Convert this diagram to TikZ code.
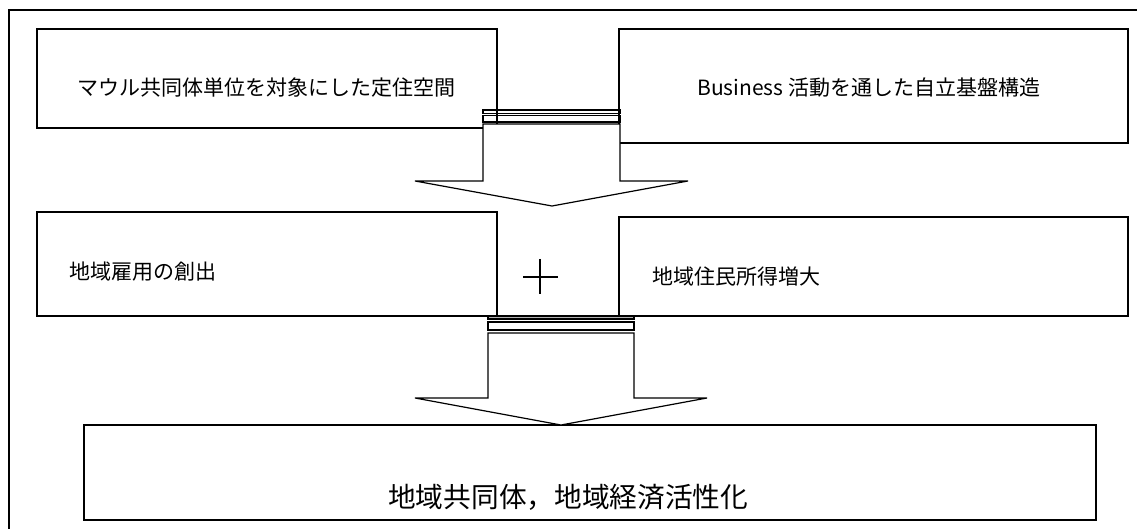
\documentclass[tikz,border=0pt]{standalone}
\usepackage{fontspec}
\setmainfont{Noto Sans CJK JP}
\begin{document}
\begin{tikzpicture}[x=1pt,y=-1pt,
  boxstyle/.style={draw=black,line width=1.5pt},
  arrowstyle/.style={draw=black,fill=white,line width=1.2pt,line join=miter},
  barstyle/.style={draw=black,line width=1.1pt},
  lbl/.style={inner sep=0pt,anchor=west,font=\fontsize{21}{21}\selectfont},
  biglbl/.style={inner sep=0pt,anchor=west,font=\fontsize{27.7}{27.7}\selectfont}]
\clip (0,0) rectangle (1137,529);
\fill[white] (0,0) rectangle (1137,529);
% outer frame
\draw[line width=1.2pt] (9,10) rectangle (1160,545);
% boxes
\coordinate (b1a) at (37,29);  \coordinate (b1b) at (497,128);
\coordinate (b2a) at (619,29); \coordinate (b2b) at (1128,143);
\coordinate (b3a) at (37,212); \coordinate (b3b) at (497,316);
\coordinate (b4a) at (619,217);\coordinate (b4b) at (1128,316);
\coordinate (b5a) at (84,425); \coordinate (b5b) at (1096,520);
\draw[boxstyle] (b1a) rectangle (b1b);
\draw[boxstyle] (b2a) rectangle (b2b);
\draw[boxstyle] (b3a) rectangle (b3b);
\draw[boxstyle] (b4a) rectangle (b4b);
\draw[boxstyle] (b5a) rectangle (b5b);
% arrow 1
\draw[arrowstyle] (483,124) -- (620,124) -- (620,181) -- (688,181) -- (552,206) -- (415,181) -- (483,181) -- cycle;
\draw[barstyle] (483,110) rectangle (620,113.5);
\draw[barstyle] (483,115.5) rectangle (620,122);
\draw[line width=1.5pt] (497,108) -- (497,124);
\draw[line width=1.5pt] (619,108) -- (619,124);
% arrow 2
\draw[arrowstyle] (488,333) -- (634,333) -- (634,398) -- (707,398) -- (561,425) -- (415,398) -- (488,398) -- cycle;
\draw[barstyle,fill=gray!60] (488,316) rectangle (634,319);
\draw[barstyle] (488,322) rectangle (634,330);
% plus
\coordinate (pl) at (523,277); \coordinate (pr) at (558,277);
\coordinate (pt) at (540,259); \coordinate (pb) at (540,294);
\draw[line width=2.2pt] (pl) -- (pr);
\draw[line width=2.2pt] (pt) -- (pb);
% texts
\node[lbl] (t1) at (77,88) {マウル共同体単位を対象にした定住空間};
\node[lbl] (t2) at (697,88) {Business 活動を通した自立基盤構造};
\node[lbl] (t3) at (69,272) {地域雇用の創出};
\node[lbl] (t4) at (652,277) {地域住民所得増大};
\node[biglbl] (t5) at (388,497) {地域共同体，地域経済活性化};
\end{tikzpicture}
\end{document}
